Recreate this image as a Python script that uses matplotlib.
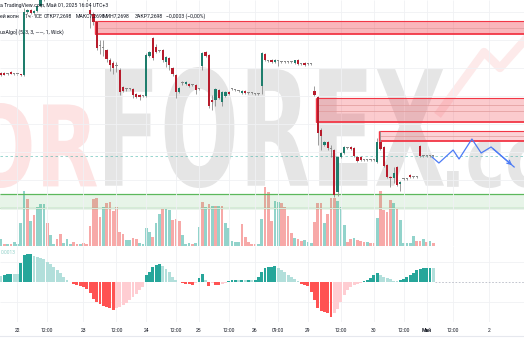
import matplotlib
matplotlib.use("Agg")
import matplotlib.pyplot as plt
import numpy as np
from matplotlib.textpath import TextPath
from matplotlib.patches import PathPatch
from matplotlib.font_manager import FontProperties
from matplotlib.transforms import Affine2D

W, H = 524, 350

# hourly candles, price in points (chart units)
opens = [
    173, 173, 172, 174, 172, 172, 172, 171, 234, 236, 233, 235,
    240, 246, 252, 256, 254, 255, 253, 251, 252, 255, 254, 252,
    253, 253, 251, 236, 232, 224, 200, 198, 196, 186, 183, 180,
    176, 159, 157, 157, 157, 152, 151, 150, 150, 190, 208, 199,
    195, 196, 184, 188, 178, 171, 154, 163, 162, 162, 161, 161,
    157, 180, 194, 191, 146, 146, 156, 144, 150, 154, 157, 156,
    155, 153, 155, 153, 153, 152, 152, 160, 192, 185, 186, 184,
    185, 184, 184, 184, 184, 183, 186, 182, 183, 182, 182, 155,
    149, 116, 101, 104, 97, 96, 54, 89, 93, 98, 99, 98,
    89, 89, 86, 86, 86, 86, 84, 104, 99, 81, 69, 68,
    79, 62, 67, 67, 71, 69, 69, 100, 90, 90, 90, 90]
closes = [
    171, 171.5, 172, 172, 172, 172, 171, 234, 236, 233, 235, 240,
    246, 252, 256, 254, 255, 253, 251, 252, 255, 254, 252, 253,
    253, 251, 246, 232, 224, 198, 200, 198, 187, 181, 178, 180,
    154, 155, 157, 157, 151, 149, 149, 150, 191, 194, 188, 194,
    195, 186, 189, 181, 172, 154, 158, 163, 164, 160, 161, 156,
    157, 193, 190, 140, 144, 157, 148, 154, 154, 152, 157, 156,
    155, 155, 153, 153, 153, 152, 152, 193, 186, 185, 184, 186,
    185, 184, 184, 184, 184, 186, 182, 182, 181, 182, 182, 151,
    113, 110, 104, 98, 97, 51, 89, 93, 99, 98, 97, 90,
    85, 86, 86, 86, 86, 86, 104, 97, 80, 69, 68, 73,
    61, 64, 67, 67, 69, 69, 69, 90, 90, 90, 90, 90]
highs = [
    174, 174, 173, 175, 173, 172.5, 172.5, 238, 237, 237, 236, 241,
    247, 254, 258, 260, 257, 256, 255, 253, 256, 256, 255, 254,
    255, 254, 252, 240, 234, 225, 206, 206, 197, 188, 185, 184,
    178, 160, 158, 158, 158, 153, 152, 151, 193, 195, 209, 202,
    196, 197, 190, 189, 179, 172, 159, 165, 165, 163, 162, 162,
    158, 194, 195, 192, 151, 158, 157, 155, 155, 155, 158, 157,
    156, 156, 156, 154, 154, 153, 153, 194, 193, 186, 187, 187,
    186, 185, 185, 185, 185, 186, 187, 183, 184, 183, 183, 160,
    150, 118, 105, 105, 101, 97, 90, 94, 100, 99, 100, 99,
    90, 90, 87, 87, 87, 87, 108, 115, 100, 82, 70, 79,
    80, 65, 68, 68, 72, 70, 70, 101, 91, 91, 91, 91]
lows = [
    170, 171, 171, 172, 171, 171.5, 170, 170, 232, 232, 231, 234,
    239, 245, 250, 253, 251, 252, 250, 249, 251, 253, 251, 251,
    252, 250, 245, 218, 221, 196, 192, 190, 184, 175, 172, 174,
    151, 154, 155, 156, 148, 148, 146, 149, 149, 189, 186, 193,
    194, 184, 179, 176, 170, 148, 153, 161, 161, 159, 160, 152,
    156, 176, 189, 138, 136, 140, 147, 140, 149, 151, 156, 155,
    154, 152, 152, 152, 152, 151, 151, 152, 185, 184, 183, 183,
    180, 183, 183, 183, 183, 182, 181, 181, 180, 181, 181, 150,
    101, 96, 100, 96, 89, 49, 50, 88, 92, 97, 96, 89,
    84, 85, 85, 85, 85, 85, 83, 96, 79, 68, 59, 63,
    60, 55, 66, 66, 68, 68, 68, 89, 89, 89, 89, 89]

volume = [
    7, 2, 2, 2, 4, 2, 23, 55, 47, 25, 31, 39, 42, 42, 23, 11, 2, 7, 12, 3, 7, 2,
    4, 2, 2, 3, 2, 20, 47, 48, 29, 39, 43, 44, 35, 39, 14, 12, 6, 6, 8, 7, 3, 2,
    18, 14, 9, 23, 32, 38, 38, 36, 26, 27, 25, 11, 2, 3, 2, 3, 19, 44, 39, 42,
    40, 40, 40, 40, 23, 18, 5, 4, 4, 22, 9, 4, 2, 2, 2, 27, 59, 54, 25, 45, 44,
    43, 39, 30, 13, 8, 7, 5, 6, 4, 3, 24, 43, 43, 23, 32, 48, 48, 45, 39, 21, 4,
    7, 8, 6, 5, 4, 4, 3, 3, 28, 55, 36, 34, 46, 43, 37, 26, 3, 3, 3, 10, 5, 5,
    7, 4, 5, 3]
volume_up = [
    1, 0, 1, 0, 1, 1, 1, 1, 0, 1, 0, 1, 1, 1, 0, 1, 1, 0, 0, 1, 1, 1,
    0, 0, 1, 0, 0, 0, 0, 0, 0, 1, 0, 0, 0, 0, 0, 0, 1, 1, 0, 0, 1, 1,
    1, 1, 0, 1, 1, 0, 1, 1, 0, 0, 0, 1, 1, 1, 0, 1, 1, 0, 1, 0,
    1, 0, 1, 0, 1, 1, 1, 1, 1, 0, 0, 0, 0, 0, 1, 1, 0, 0, 0, 1, 1,
    0, 0, 0, 0, 1, 0, 0, 1, 1, 1, 0, 0, 0, 1, 0, 0, 0, 1, 1, 1, 0,
    0, 1, 0, 0, 0, 1, 0, 0, 1, 0, 0, 0, 0, 1, 0, 1, 1, 1, 1, 1, 0, 0,
    1, 0, 1, 0]

# oscillator histogram
hist = [
    6.5, 7.5, 7.8, 8.0, 7.9, 7.8, 19, 27, 28, 28.5, 26, 25, 24, 23, 20, 18, 15, 12, 9, 5, 2, 0.5,
    -2, -3, -4, -5, -7, -11, -17, -20, -22, -24, -25, -26, -27.5, -26, -25, -23, -21, -18, -15, -12, -8, -5,
    7, 10, 15, 17, 18, 16, 13, 10, 5, 2, 0.3,
    -1, -2, -2.2, -3, -1,
    4, 8, 2,
    -4, -1, -3, -3.2, -2, -1,
    1, 2, 2.2, 2.1, 2.3, 2.2, 2.4, 2.3, 2.5, 5,
    10, 14, 15, 15.5, 16, 14, 12, 10, 7, 5, 3, 1,
    -2, -3, -4, -10, -18, -26, -29, -30, -30.5, -35, -31, -27, -20, -13, -8, -5, -3, -2, -1,
    1, 2, 4, 7, 9, 7, 5, 4, 3, 1.5, 1, 2, 3, 5, 7, 9, 12, 13, 14, 14.3, 14.5, 14.2]

# supply zones: origin bar, bottom, top, inner levels
zone_start = [29, 96, 115]
zone_low = [212, 124, 105]
zone_high = [225, 148, 115]
zone_inner = [[218], [135, 141], [110]]
zone_alpha = [0.36, 0.26, 0.22]
# volume zone
vol_zone = (38, 52)

# projected path
proj_bar = [130.6, 132.7, 137, 138.8, 142.7, 145.5, 148.5, 155.5]
proj_price = [89, 83, 96, 87, 107, 93, 99, 79]

tick_bars = [5, 14, 25, 35, 44, 53, 60, 69, 77, 84, 93, 103, 113, 122, 129, 137, 148]
tick_labels = ["22", "12:00", "23", "12:00", "24", "12:00", "25", "12:00", "26",
               "09:00", "29", "12:00", "30", "12:00", "Май", "12:00", "2"]
price_grid = [234, 206, 178, 150, 122, 94, 66, 38]

n = len(closes)
bars = np.arange(n)
o, c, hi, lo = map(np.array, (opens, closes, highs, lows))

GREEN = "#1e7d6c"
RED = "#b71c2c"
FONT = "Roboto"

xmin, xmax = -1 / 3.3, (W - 1) / 3.3

fig = plt.figure(figsize=(W / 100, H / 100), dpi=100)

# watermark background
ax_bg = fig.add_axes([0, 0, 1, 1], zorder=0)
ax_bg.set_xlim(0, W)
ax_bg.set_ylim(H, 0)
ax_bg.axis("off")


def watermark(text, x0, x1, ytop, ybot, color):
    tp = TextPath((0, 0), text, size=100,
                  prop=FontProperties(family="DejaVu Sans", weight="bold"))
    ext = tp.get_extents()
    tr = (Affine2D().translate(-ext.x0, -ext.y0)
          .scale((x1 - x0) / ext.width, -(ybot - ytop) / ext.height)
          .translate(x0, ybot))
    ax_bg.add_patch(PathPatch(tr.transform_path(tp), fc=color, ec="none"))


watermark("OR", -30, 97, 103, 188, "#fde3e3")
watermark("FOREX", 105, 444, 67, 188, "#e5e5e5")
watermark(".co", 447, 548, 140, 188, "#e5e5e5")
ax_bg.plot([440, 484, 500, 532], [112, 52, 68, 32], color="#fdeaea", lw=6)
ax_bg.plot([0, W], [335.5, 335.5], color="#e6e8ee", lw=0.8)

# volume pane (bottom of the price pane)
axv = fig.add_axes([0, 1 - 246 / H, 1, 246 / H], zorder=1)
axv.set_xlim(xmin, xmax)
axv.set_ylim(0, 246)
axv.axis("off")
axv.bar(bars, volume, width=0.8,
        color=["#92d3cb" if u else "#f7a9a8" for u in volume_up])
axv.fill_between([xmin, xmax], vol_zone[0], vol_zone[1], color="#4caf50", alpha=0.13, lw=0)
axv.hlines(vol_zone, xmin, xmax, color="#5cb85c", lw=0.9)

# price pane
ax = fig.add_axes([0, 1 - 246 / H, 1, 246 / H], zorder=2)
ax.patch.set_alpha(0)
ax.set_xlim(xmin, xmax)
ax.set_ylim(0, 246)
ax.axis("off")
ax.vlines(tick_bars, 0, 246, color="#f0f1f4", lw=0.6, zorder=0)
ax.hlines(price_grid, xmin, xmax, color="#f0f1f4", lw=0.6, zorder=0)

for s, lo_z, hi_z, inner, a in zip(zone_start, zone_low, zone_high, zone_inner, zone_alpha):
    x0 = s - 0.5
    ax.fill_between([x0, xmax], lo_z, hi_z, color="#f23645", alpha=a, lw=0, zorder=1)
    ax.hlines(hi_z, x0, xmax, color="#f23645", lw=0.8, zorder=2)
    ax.hlines(lo_z, x0, xmax, color="#f23645", lw=1.3, zorder=2)
    ax.hlines(inner, x0, xmax, color="#e09a9a", lw=0.5, zorder=2)
    ax.vlines(x0, lo_z, hi_z, color="#f23645", lw=1.0, zorder=2)

ax.axhline(closes[-1], color="#26a69a", lw=0.6, ls=(0, (3, 3)), alpha=0.55, zorder=1)

ax.vlines(bars, lo, hi, color="#8c8c8c", lw=0.6, zorder=3)
body_col = np.where(c > o, GREEN, np.where(c < o, RED, "#8a8a8a"))
body_h = np.maximum(np.abs(c - o), 0.8)
ax.bar(bars, body_h, bottom=np.minimum(o, c), width=0.68, color=body_col, zorder=4, lw=0)

ax.plot(proj_bar, proj_price, color="#4d7cf6", lw=0.9, zorder=5)
ax.annotate("", xy=(proj_bar[-1], proj_price[-1]), xytext=(proj_bar[-2], proj_price[-2]),
            arrowprops=dict(arrowstyle="->", color="#4d7cf6", lw=0.9, mutation_scale=7),
            zorder=5)

# oscillator pane
axm = fig.add_axes([0, 1 - 322 / H, 1, 76 / H], zorder=2)
axm.patch.set_alpha(0)
axm.set_xlim(xmin, xmax)
axm.set_ylim(-40, 36)
for sp in axm.spines.values():
    sp.set_visible(False)
axm.set_yticks([])
axm.vlines(tick_bars, -40, 36, color="#f0f1f4", lw=0.6, zorder=0)
axm.hlines([20, -20], xmin, xmax, color="#f0f1f4", lw=0.6, zorder=0)
hv = np.array(hist)
prev = np.concatenate([[hv[0]], hv[:-1]])
hcol = np.where(hv >= 0,
                np.where(hv > prev, "#26a69a", "#b2dfdb"),
                np.where(hv < prev, "#ff5252", "#ffcdd2"))
axm.bar(bars, hv, width=0.85, color=hcol, lw=0, zorder=2)
axm.hlines(0, n - 0.5, xmax, color="#b8bcc6", lw=0.6, ls=(0, (2, 2)), zorder=1)
axm.set_xticks(tick_bars)
axm.set_xticklabels(tick_labels, fontsize=3.6, color="#131722", family=FONT)
axm.get_xticklabels()[tick_labels.index("Май")].set_fontweight("bold")
axm.tick_params(axis="x", length=0, pad=4.5)

# header text
hdr = dict(fontsize=3.7, color="#131722", family=FONT, va="center")
fig.text(0, 1 - 5 / H, "а TradingView.com, Май 01, 2025 16:04 UTC+3", **hdr)
fig.text(0, 1 - 16 / H, "ей волн", **hdr)
fig.text(25 / W, 1 - 16 / H, "1ч · ICE", **hdr)
fig.text(44 / W, 1 - 16 / H, "ОТКР7,2698", **hdr)
fig.text(76 / W, 1 - 16 / H, "МАКС7,2698", **hdr)
fig.text(103 / W, 1 - 16 / H, "МИН7,2698", **hdr)
fig.text(135 / W, 1 - 16 / H, "ЗАКР7,2698", **hdr)
fig.text(166 / W, 1 - 16 / H, "−0,0003 (−0,00%)", **hdr)
fig.text(0, 1 - 32 / H, "uxAlgo] (5, 3, 3, ——, 1, Wick)", **hdr)
fig.text(1 / W, 1 - 252 / H, "0.0013", fontsize=3.5, color="#8fd0c8", family=FONT,
         ha="left", va="center")

fig.savefig("out.png", dpi=100)
